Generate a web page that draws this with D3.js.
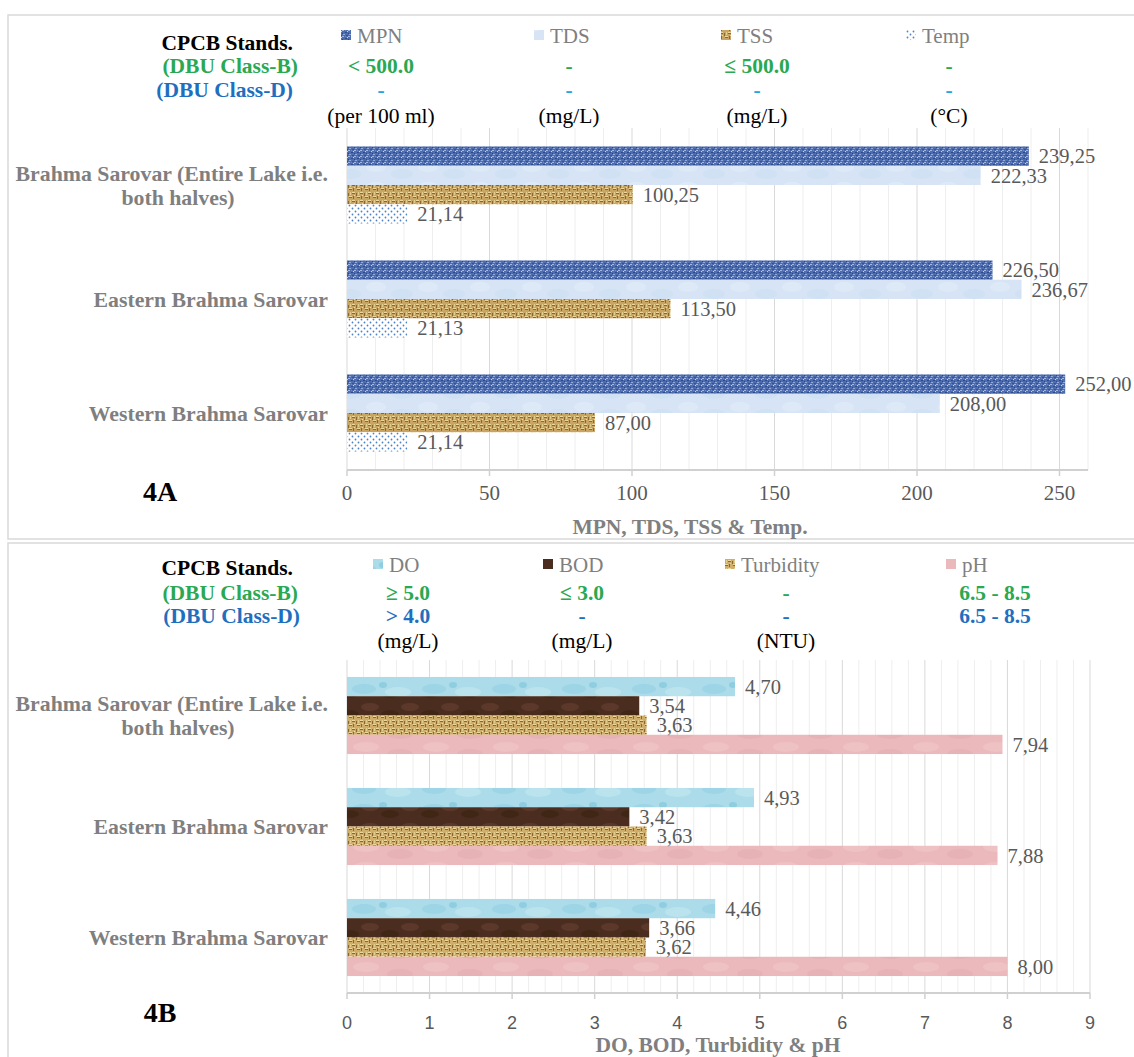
<!DOCTYPE html>
<html>
<head>
<meta charset="utf-8">
<script src="https://cdn.jsdelivr.net/npm/d3@7"></script>
<style>
  body { margin: 0; background: #fff; }
  svg { display: block; }
</style>
</head>
<body>
<svg id="chart" width="1134" height="1057"></svg>
<script>
// ---- data ----
var categories = ["Brahma Sarovar (Entire Lake i.e. both halves)", "Eastern Brahma Sarovar", "Western Brahma Sarovar"];
var categoryLines = [["Brahma Sarovar (Entire Lake i.e.", "both halves)"], ["Eastern Brahma Sarovar"], ["Western Brahma Sarovar"]];

// 4A
var seriesA = ["MPN", "TDS", "TSS", "Temp"];
var mpnValues = [239.25, 226.50, 252.00];
var tdsValues = [222.33, 236.67, 208.00];
var tssValues = [100.25, 113.50, 87.00];
var tempValues = [21.14, 21.13, 21.14];
var classB_A = ["< 500.0", "-", "≤ 500.0", "-"];
var classD_A = ["-", "-", "-", "-"];
var unitsA = ["(per 100 ml)", "(mg/L)", "(mg/L)", "(°C)"];
var ticksA = [0, 50, 100, 150, 200, 250];

// 4B
var seriesB = ["DO", "BOD", "Turbidity", "pH"];
var doValues = [4.70, 4.93, 4.46];
var bodValues = [3.54, 3.42, 3.66];
var turbidityValues = [3.63, 3.63, 3.62];
var phValues = [7.94, 7.88, 8.00];
var classB_B = ["≥ 5.0", "≤ 3.0", "-", "6.5 - 8.5"];
var classD_B = ["> 4.0", "-", "-", "6.5 - 8.5"];
var unitsB = ["(mg/L)", "(mg/L)", "(NTU)", ""];
var ticksB = [0, 1, 2, 3, 4, 5, 6, 7, 8, 9];

var serif = "'Liberation Serif', 'Times New Roman', serif";
var green = "#2aa852", blue = "#1f6fbf", lightBlue = "#22a6e0";

var svg = d3.select("#chart");
var defs = svg.append("defs");

// textures, roughly like the excel picture fills
function makePattern(id, w, h, base, marks) {
  var p = defs.append("pattern")
    .attr("id", id)
    .attr("patternUnits", "userSpaceOnUse")
    .attr("width", w)
    .attr("height", h);
  p.append("rect").attr("width", w).attr("height", h).attr("fill", base);
  marks.forEach(function(m) {
    if (m.r) {
      p.append("circle").attr("cx", m.x).attr("cy", m.y).attr("r", m.r).attr("fill", m.c);
    } else if (m.rx) {
      p.append("ellipse").attr("cx", m.x).attr("cy", m.y).attr("rx", m.rx).attr("ry", m.ry).attr("fill", m.c).attr("opacity", 0.6);
    } else {
      p.append("rect").attr("x", m.x).attr("y", m.y).attr("width", m.w).attr("height", m.h).attr("fill", m.c);
    }
  });
}

makePattern("pMPN", 6, 6, "#4d6db0", [
  {x: 0, y: 0, w: 2, h: 1, c: "#a3b7e0"}, {x: 3, y: 2, w: 2, h: 1, c: "#2d4a8a"},
  {x: 1, y: 4, w: 2, h: 1, c: "#93aad8"}, {x: 4, y: 5, w: 2, h: 1, c: "#34538f"},
  {x: 5, y: 1, w: 1, h: 1, c: "#c6d3ec"}, {x: 0, y: 3, w: 1, h: 1, c: "#2a4683"},
  {x: 3, y: 0, w: 1, h: 1, c: "#6c88c4"}
]);
makePattern("pTDS", 52, 20, "#d6e4f5", [
  {x: 12, y: 7, rx: 10, ry: 5, c: "#e3ecf8"}, {x: 38, y: 14, rx: 11, ry: 5, c: "#cddff3"}
]);
var burlap = [
  {x: 0, y: 1, w: 3, h: 1, c: "#8a6830"}, {x: 4, y: 1, w: 1, h: 3, c: "#8a6830"},
  {x: 5, y: 5, w: 3, h: 1, c: "#8a6830"}, {x: 1, y: 4, w: 1, h: 3, c: "#8a6830"},
  {x: 0, y: 0, w: 3, h: 1, c: "#ecd89e"}, {x: 5, y: 4, w: 3, h: 1, c: "#ecd89e"},
  {x: 2, y: 3, w: 1, h: 1, c: "#ecd89e"}, {x: 6, y: 0, w: 1, h: 3, c: "#e4cc8c"}
];
makePattern("pTSS", 8, 8, "#c9a564", burlap);
makePattern("pTurb", 8, 8, "#cfae6c", burlap);
makePattern("pTemp", 6, 6, "#ffffff", [
  {x: 1.5, y: 1.5, r: 0.9, c: "#4f82c0"}, {x: 4.5, y: 4.5, r: 0.9, c: "#4f82c0"}
]);
makePattern("pDO", 70, 20, "#acdbe9", [
  {x: 14, y: 9, rx: 12, ry: 5, c: "#93d1e4"}, {x: 48, y: 12, rx: 13, ry: 5, c: "#c4e8f2"},
  {x: 33, y: 5, rx: 4, ry: 3, c: "#7cc4dc"}
]);
makePattern("pBOD", 40, 20, "#4b2d1f", [
  {x: 10, y: 7, rx: 9, ry: 4, c: "#654030"}, {x: 30, y: 14, rx: 9, ry: 4, c: "#39220f"}
]);
makePattern("pPH", 70, 20, "#ebb8bb", [
  {x: 16, y: 7, rx: 13, ry: 5, c: "#f0c6c8"}, {x: 50, y: 14, rx: 13, ry: 5, c: "#e5adb1"}
]);

// panel frames
svg.append("rect").attr("x", 8).attr("y", 15).attr("width", 1140).attr("height", 524)
  .attr("fill", "none").attr("stroke", "#d9d9d9").attr("stroke-width", 1.5);
svg.append("rect").attr("x", 8).attr("y", 543).attr("width", 1140).attr("height", 530)
  .attr("fill", "none").attr("stroke", "#d9d9d9").attr("stroke-width", 1.5);

function drawPanel(o) {
  var g = svg.append("g");

  var x = d3.scaleLinear().domain([0, o.max]).range([347, o.right]);
  var y = d3.scaleBand().domain(categories).range([o.top, o.bottom]);
  var ys = d3.scaleBand().domain(o.series).range([0, y.bandwidth()]).paddingOuter(o.outer);

  // gridlines: minor then major
  g.append("g").selectAll("line")
    .data(d3.range(0, o.max + 1e-9, o.minor))
    .enter()
    .append("line")
    .attr("x1", function(d) { return x(d); })
    .attr("x2", function(d) { return x(d); })
    .attr("y1", o.top)
    .attr("y2", o.bottom)
    .attr("stroke", function(d) {
      return o.ticks.indexOf(+d.toFixed(3)) >= 0 ? "#d9d9d9" : "#eeeeee";
    })
    .attr("stroke-width", 1);

  // axis line + ticks
  g.append("line")
    .attr("x1", x(0)).attr("x2", x(o.max))
    .attr("y1", o.bottom).attr("y2", o.bottom)
    .attr("stroke", "#d0d0d0").attr("stroke-width", 2);
  g.append("g").selectAll("line")
    .data(o.ticks)
    .enter()
    .append("line")
    .attr("x1", function(d) { return x(d); })
    .attr("x2", function(d) { return x(d); })
    .attr("y1", o.bottom)
    .attr("y2", o.bottom + 6)
    .attr("stroke", "#d0d0d0").attr("stroke-width", 1.5);
  g.append("g").selectAll("text")
    .data(o.ticks)
    .enter()
    .append("text")
    .attr("x", function(d) { return x(d); })
    .attr("y", o.tickY)
    .attr("text-anchor", "middle")
    .attr("font-family", o.tickFont)
    .attr("font-size", o.tickSize)
    .attr("fill", "#595959")
    .text(function(d) { return d; });

  // bars
  var rows = [];
  categories.forEach(function(c, i) {
    o.series.forEach(function(s, j) {
      rows.push({cat: c, s: s, v: o.values[j][i], fill: o.fills[j]});
    });
  });
  g.append("g").selectAll("rect")
    .data(rows)
    .enter()
    .append("rect")
    .attr("x", x(0))
    .attr("y", function(d) { return y(d.cat) + ys(d.s); })
    .attr("width", function(d) { return x(d.v) - x(0); })
    .attr("height", ys.bandwidth())
    .attr("fill", function(d) { return "url(#" + d.fill + ")"; });

  g.append("g").selectAll("text")
    .data(rows)
    .enter()
    .append("text")
    .attr("x", function(d) { return x(d.v) + 10; })
    .attr("y", function(d) { return y(d.cat) + ys(d.s) + ys.bandwidth() / 2; })
    .attr("dy", "0.35em")
    .attr("font-family", serif)
    .attr("font-size", 20.5)
    .attr("fill", "#595959")
    .text(function(d) { return d3.format(".2f")(d.v).replace(".", ","); });

  // category labels
  categories.forEach(function(c, i) {
    var lines = categoryLines[i];
    var cy = y(c) + y.bandwidth() / 2;
    lines.forEach(function(t, k) {
      var two = lines.length > 1;
      g.append("text")
        .attr("x", two && k == 1 ? 178 : 328)
        .attr("y", cy + (two ? (k == 0 ? -12 : 12) : 0))
        .attr("dy", "0.35em")
        .attr("text-anchor", two && k == 1 ? "middle" : "end")
        .attr("font-family", serif)
        .attr("font-weight", "bold")
        .attr("font-size", 21.8)
        .attr("fill", "#7f7f7f")
        .text(t);
    });
  });

  // axis title and panel tag
  g.append("text")
    .attr("x", o.titleX).attr("y", o.titleY)
    .attr("text-anchor", "middle")
    .attr("font-family", serif).attr("font-weight", "bold").attr("font-size", 21.5)
    .attr("fill", "#7f7f7f")
    .text(o.title);
  g.append("text")
    .attr("x", 160).attr("y", o.tagY)
    .attr("text-anchor", "middle")
    .attr("font-family", serif).attr("font-weight", "bold").attr("font-size", 28)
    .attr("fill", "#000")
    .text(o.tag);

  // header block: standards text + legend
  var h = o.head;
  [["CPCB Stands.", "#000", h.y0 + h.cpcbDy, 293],
   ["(DBU Class-B)", green, h.y1, 298],
   ["(DBU Class-D)", blue, h.y2, o.dEnd]].forEach(function(r) {
    g.append("text")
      .attr("x", r[3]).attr("y", r[2])
      .attr("text-anchor", "end")
      .attr("font-family", serif).attr("font-weight", "bold").attr("font-size", 21.5)
      .attr("fill", r[1])
      .text(r[0]);
  });

  o.series.forEach(function(s, j) {
    g.append("rect")
      .attr("x", h.swatch[j]).attr("y", h.y0 - 13)
      .attr("width", 10).attr("height", 10)
      .attr("fill", "url(#" + o.fills[j] + ")");
    g.append("text")
      .attr("x", h.swatch[j] + 16).attr("y", h.y0)
      .attr("font-family", serif).attr("font-size", 21)
      .attr("fill", "#7f7f7f")
      .text(s);
    g.append("text")
      .attr("x", h.cols[j]).attr("y", h.y1)
      .attr("text-anchor", "middle")
      .attr("font-family", serif).attr("font-weight", "bold").attr("font-size", 21.5)
      .attr("fill", green)
      .text(o.classB[j]);
    g.append("text")
      .attr("x", h.cols[j]).attr("y", h.y2)
      .attr("text-anchor", "middle")
      .attr("font-family", serif).attr("font-weight", "bold").attr("font-size", 21.5)
      .attr("fill", o.dColor)
      .text(o.classD[j]);
    g.append("text")
      .attr("x", h.cols[j]).attr("y", h.y3)
      .attr("text-anchor", "middle")
      .attr("font-family", serif).attr("font-size", 21.5)
      .attr("fill", "#000")
      .text(o.units[j]);
  });
}

drawPanel({
  series: seriesA,
  values: [mpnValues, tdsValues, tssValues, tempValues],
  fills: ["pMPN", "pTDS", "pTSS", "pTemp"],
  classB: classB_A, classD: classD_A, units: unitsA, dColor: lightBlue, dEnd: 293,
  max: 260, minor: 10, ticks: ticksA, right: 1088,
  top: 128, bottom: 470, outer: 0.96,
  tickY: 500, tickFont: serif, tickSize: 21,
  title: "MPN, TDS, TSS & Temp.", titleX: 690, titleY: 534,
  tag: "4A", tagY: 501,
  head: {y0: 43, cpcbDy: 7, y1: 73, y2: 97, y3: 123,
         swatch: [341, 534, 721, 906], cols: [381, 569, 757, 949]}
});

drawPanel({
  series: seriesB,
  values: [doValues, bodValues, turbidityValues, phValues],
  fills: ["pDO", "pBOD", "pTurb", "pPH"],
  classB: classB_B, classD: classD_B, units: unitsB, dColor: blue, dEnd: 300,
  max: 9, minor: 0.2, ticks: ticksB, right: 1090,
  top: 660, bottom: 993, outer: 0.88,
  tickY: 1029, tickFont: "'Liberation Sans', Arial, sans-serif", tickSize: 18,
  title: "DO, BOD, Turbidity & pH", titleX: 718, titleY: 1052,
  tag: "4B", tagY: 1022,
  head: {y0: 572, cpcbDy: 3, y1: 600, y2: 623, y3: 648,
         swatch: [373, 543, 725, 946], cols: [408, 582, 786, 995]}
});
</script>
</body>
</html>
